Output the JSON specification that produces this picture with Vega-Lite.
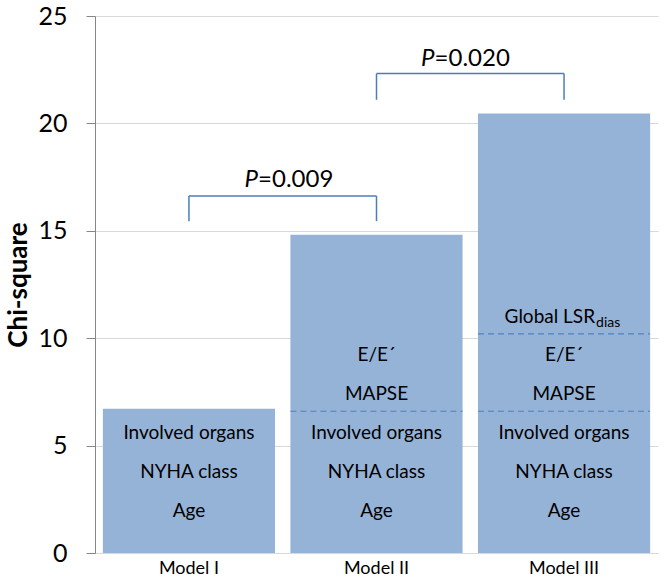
{
  "$schema": "https://vega.github.io/schema/vega-lite/v6.json",
  "autosize": {"type": "none"},
  "padding": {"left": 95, "top": 16, "right": 6, "bottom": 31},
  "width": 563,
  "height": 537,
  "background": "white",
  "config": {"view": {"stroke": null}, "font": "Lato"},
  "datasets": {
    "bars": [
      {"model": "Model I", "chi": 6.72},
      {"model": "Model II", "chi": 14.82},
      {"model": "Model III", "chi": 20.46}
    ],
    "dividers": [
      {"model": "Model II", "level": 6.6},
      {"model": "Model III", "level": 6.6},
      {"model": "Model III", "level": 10.2}
    ],
    "labels": [
      {"model": "Model I", "label": "Age", "pos": 1.97},
      {"model": "Model I", "label": "NYHA class", "pos": 3.79},
      {"model": "Model I", "label": "Involved organs", "pos": 5.6},
      {"model": "Model II", "label": "Age", "pos": 1.97},
      {"model": "Model II", "label": "NYHA class", "pos": 3.79},
      {"model": "Model II", "label": "Involved organs", "pos": 5.6},
      {"model": "Model II", "label": "MAPSE", "pos": 7.42},
      {"model": "Model II", "label": "E/E´", "pos": 9.2},
      {"model": "Model III", "label": "Age", "pos": 1.97},
      {"model": "Model III", "label": "NYHA class", "pos": 3.79},
      {"model": "Model III", "label": "Involved organs", "pos": 5.6},
      {"model": "Model III", "label": "MAPSE", "pos": 7.42},
      {"model": "Model III", "label": "E/E´", "pos": 9.2}
    ],
    "lsr": [
      {"model": "Model III", "label": "Global LSR", "sub": "dias", "pos": 10.98}
    ],
    "brackets": [
      {"id": 1, "from": "Model I", "to": "Model II", "lo": 15.45, "hi": 16.62, "ptext": "P", "rest": "=0.009", "ty": 17.35},
      {"id": 2, "from": "Model II", "to": "Model III", "lo": 21.1, "hi": 22.32, "ptext": "P", "rest": "=0.020", "ty": 23.0}
    ]
  },
  "encoding": {
    "x": {
      "field": "model", "type": "nominal",
      "scale": {"domain": ["Model I", "Model II", "Model III"], "paddingInner": 0.082, "paddingOuter": 0.042},
      "axis": {"title": null, "labelAngle": 0, "ticks": false, "labelFontSize": 18, "labelColor": "#000000", "labelPadding": 6, "domainColor": "#d9d9d9", "labelFont": "Lato"}
    }
  },
  "layer": [
    {
      "data": {"name": "bars"},
      "mark": {"type": "bar", "color": "#95B3D7"},
      "encoding": {
        "y": {
          "field": "chi", "type": "quantitative",
          "scale": {"domain": [0, 25], "nice": false, "zero": true},
          "axis": {
            "title": "Chi-square", "titleFontSize": 26, "titleFontWeight": "bold", "titleColor": "#000000", "titleFont": "Lato", "titlePadding": 6,
            "values": [0, 5, 10, 15, 20, 25],
            "labelFontSize": 25, "labelColor": "#000000", "labelPadding": 19, "labelFont": "Lato",
            "tickColor": "#868686", "tickSize": 9, "domainColor": "#868686",
            "gridColor": "#d9d9d9", "gridWidth": 1
          }
        }
      }
    },
    {
      "data": {"name": "dividers"},
      "mark": {"type": "rule", "color": "#4F81BD", "strokeDash": [6, 4], "strokeWidth": 1.2},
      "encoding": {
        "x": {"field": "model", "type": "nominal", "bandPosition": 0},
        "x2": {"field": "model", "bandPosition": 1},
        "y": {"field": "level", "type": "quantitative", "scale": {"domain": [0, 25], "nice": false}}
      }
    },
    {
      "data": {"name": "labels"},
      "mark": {"type": "text", "fontSize": 19, "color": "#000000", "baseline": "middle", "align": "center"},
      "encoding": {
        "y": {"field": "pos", "type": "quantitative", "scale": {"domain": [0, 25], "nice": false}},
        "text": {"field": "label"}
      }
    },
    {
      "data": {"name": "lsr"},
      "mark": {"type": "text", "fontSize": 19, "color": "#000000", "baseline": "middle", "align": "right", "dx": 31},
      "encoding": {
        "y": {"field": "pos", "type": "quantitative", "scale": {"domain": [0, 25], "nice": false}},
        "text": {"field": "label"}
      }
    },
    {
      "data": {"name": "lsr"},
      "mark": {"type": "text", "fontSize": 14, "color": "#000000", "baseline": "middle", "align": "left", "dx": 32, "dy": 6},
      "encoding": {
        "y": {"field": "pos", "type": "quantitative", "scale": {"domain": [0, 25], "nice": false}},
        "text": {"field": "sub"}
      }
    },
    {
      "data": {"name": "brackets"},
      "mark": {"type": "rule", "color": "#4A7EBB", "strokeWidth": 1.5},
      "encoding": {
        "x": {"field": "from", "type": "nominal"},
        "x2": {"field": "to"},
        "y": {"field": "hi", "type": "quantitative", "scale": {"domain": [0, 25], "nice": false}}
      }
    },
    {
      "data": {"name": "brackets"},
      "mark": {"type": "rule", "color": "#4A7EBB", "strokeWidth": 1.5},
      "encoding": {
        "x": {"field": "from", "type": "nominal"},
        "y": {"field": "lo", "type": "quantitative", "scale": {"domain": [0, 25], "nice": false}},
        "y2": {"field": "hi"}
      }
    },
    {
      "data": {"name": "brackets"},
      "mark": {"type": "rule", "color": "#4A7EBB", "strokeWidth": 1.5},
      "encoding": {
        "x": {"field": "to", "type": "nominal"},
        "y": {"field": "lo", "type": "quantitative", "scale": {"domain": [0, 25], "nice": false}},
        "y2": {"field": "hi"}
      }
    },
    {
      "data": {"name": "brackets"},
      "transform": [{"filter": "datum.id == 1"}],
      "layer": [
        {
          "mark": {"type": "text", "fontSize": 24, "fontStyle": "italic", "color": "#000000", "baseline": "middle", "align": "right", "dx": -17},
          "encoding": {
            "x": {"field": "from", "type": "nominal", "bandPosition": 1},
            "y": {"field": "ty", "type": "quantitative", "scale": {"domain": [0, 25], "nice": false}},
            "text": {"field": "ptext"}
          }
        },
        {
          "mark": {"type": "text", "fontSize": 24, "color": "#000000", "baseline": "middle", "align": "left", "dx": -17},
          "encoding": {
            "x": {"field": "from", "type": "nominal", "bandPosition": 1},
            "y": {"field": "ty", "type": "quantitative", "scale": {"domain": [0, 25], "nice": false}},
            "text": {"field": "rest"}
          }
        }
      ]
    },
    {
      "data": {"name": "brackets"},
      "transform": [{"filter": "datum.id == 2"}],
      "layer": [
        {
          "mark": {"type": "text", "fontSize": 24, "fontStyle": "italic", "color": "#000000", "baseline": "middle", "align": "right", "dx": -28},
          "encoding": {
            "x": {"field": "from", "type": "nominal", "bandPosition": 1},
            "y": {"field": "ty", "type": "quantitative", "scale": {"domain": [0, 25], "nice": false}},
            "text": {"field": "ptext"}
          }
        },
        {
          "mark": {"type": "text", "fontSize": 24, "color": "#000000", "baseline": "middle", "align": "left", "dx": -28},
          "encoding": {
            "x": {"field": "from", "type": "nominal", "bandPosition": 1},
            "y": {"field": "ty", "type": "quantitative", "scale": {"domain": [0, 25], "nice": false}},
            "text": {"field": "rest"}
          }
        }
      ]
    }
  ]
}
